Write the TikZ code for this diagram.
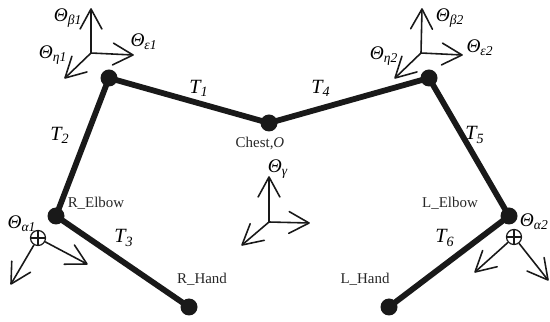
\documentclass[tikz,border=0pt]{standalone}
\usepackage{fontspec}
\setmainfont{Liberation Serif}
\usepackage{tikz}
\usetikzlibrary{arrows.meta,positioning}
\newcommand{\thetalabel}[1]{\textit{Θ\textsubscript{#1}}}
\newcommand{\tlabel}[1]{\textit{T\textsubscript{#1}}}
\pgfdeclarearrow{
  name=OpenHead,
  setup code={
    \pgfarrowssettipend{0pt}
    \pgfarrowssetlineend{-0.4pt}
    \pgfarrowssetvisualbackend{-11.4pt}
    \pgfarrowshullpoint{-11.4pt}{6.2pt}
    \pgfarrowshullpoint{-11.4pt}{-6.2pt}
    \pgfarrowshullpoint{0pt}{0pt}
  },
  drawing code={
    \pgfsetdash{}{0pt}
    \pgfsetroundjoin
    \pgfsetroundcap
    \pgfpathmoveto{\pgfqpoint{-11.4pt}{6.2pt}}
    \pgfpathlineto{\pgfqpoint{0pt}{0pt}}
    \pgfpathlineto{\pgfqpoint{-11.4pt}{-6.2pt}}
    \pgfusepathqstroke
  }
}
\tikzset{
  joint/.style={circle, fill=black!90, minimum size=0.34cm, inner sep=0pt},
  limb/.style={line width=3.3pt, black!90},
  axis/.style={-{OpenHead}, line width=0.9pt, black!90},
  marker/.style={circle, draw=black!90, line width=0.7pt, minimum size=0.3cm, inner sep=0pt},
  cross/.style={line width=0.7pt, black!90},
  angle/.style={inner sep=0pt, font=\fontsize{11}{12}\selectfont},
  seg/.style={inner sep=0pt, font=\fontsize{11.5}{12}\selectfont},
  part/.style={inner sep=0pt, text=black!85, font=\fontsize{8.5}{10}\selectfont},
}
\begin{document}
\begin{tikzpicture}
  \useasboundingbox (0,0) rectangle (11,6.44);
  % skeleton
  \node[joint] (chest) at (5.38, 3.98) {};
  \node[joint] (rshoulder) at (2.18, 4.88) {};
  \node[joint] (relbow) at (1.12, 2.12) {};
  \node[joint] (rhand) at (3.78, 0.30) {};
  \node[joint] (lshoulder) at (8.58, 4.88) {};
  \node[joint] (lelbow) at (10.18, 2.12) {};
  \node[joint] (lhand) at (7.78, 0.30) {};
  \draw[limb] (chest.center) -- (rshoulder.center);
  \draw[limb] (rshoulder.center) -- (relbow.center);
  \draw[limb] (relbow.center) -- (rhand.center);
  \draw[limb] (chest.center) -- (lshoulder.center);
  \draw[limb] (lshoulder.center) -- (lelbow.center);
  \draw[limb] (lelbow.center) -- (lhand.center);
  % shoulder frames
  \coordinate (b1o) at (1.82, 5.38);
  \coordinate (b1up) at (1.82, 6.26);
  \coordinate (b1right) at (2.66, 5.34);
  \coordinate (b1down) at (1.30, 4.88);
  \draw[axis] (b1o) -- (b1up);
  \draw[axis] (b1o) -- (b1right);
  \draw[axis] (b1o) -- (b1down);
  \coordinate (b2o) at (8.42, 5.38);
  \coordinate (b2up) at (8.44, 6.26);
  \coordinate (b2right) at (9.24, 5.34);
  \coordinate (b2down) at (7.90, 4.88);
  \draw[axis] (b2o) -- (b2up);
  \draw[axis] (b2o) -- (b2right);
  \draw[axis] (b2o) -- (b2down);
  % chest frame
  \coordinate (go) at (5.38, 2.00);
  \coordinate (gup) at (5.38, 2.90);
  \coordinate (gright) at (6.18, 1.98);
  \coordinate (gdown) at (4.84, 1.54);
  \draw[axis] (go) -- (gup);
  \draw[axis] (go) -- (gright);
  \draw[axis] (go) -- (gdown);
  % elbow frames
  \node[marker] (a1) at (0.76, 1.68) {};
  \draw[cross] (a1.north) -- (a1.south) (a1.west) -- (a1.east);
  \coordinate (a1down) at (0.22, 0.76);
  \coordinate (a1right) at (1.74, 1.16);
  \draw[axis] (a1) -- (a1down);
  \draw[axis] (a1) -- (a1right);
  \node[marker] (a2) at (10.28, 1.70) {};
  \draw[cross] (a2.north) -- (a2.south) (a2.west) -- (a2.east);
  \coordinate (a2down) at (9.50, 1.00);
  \coordinate (a2right) at (10.96, 0.84);
  \draw[axis] (a2) -- (a2down);
  \draw[axis] (a2) -- (a2right);
  % labels
  \node[angle] (lb1) at (1.36, 6.08) {\thetalabel{β1}};
  \node[angle] (le1) at (2.88, 5.60) {\thetalabel{ε1}};
  \node[angle] (ln1) at (1.06, 5.34) {\thetalabel{η1}};
  \node[angle] (lb2) at (9.00, 6.08) {\thetalabel{β2}};
  \node[angle] (le2) at (9.60, 5.48) {\thetalabel{ε2}};
  \node[angle] (ln2) at (7.68, 5.32) {\thetalabel{η2}};
  \node[angle] (lg) at (5.56, 3.06) {\thetalabel{γ}};
  \node[angle] (la1) at (0.44, 1.96) {\thetalabel{α1}};
  \node[angle, anchor=east] (la2) at (10.98, 2.00) {\thetalabel{α2}};
  \node[seg] (t1) at (3.98, 4.68) {\tlabel{1}};
  \node[seg] (t2) at (1.20, 3.74) {\tlabel{2}};
  \node[seg] (t3) at (2.48, 1.68) {\tlabel{3}};
  \node[seg] (t4) at (6.42, 4.68) {\tlabel{4}};
  \node[seg] (t5) at (9.50, 3.74) {\tlabel{5}};
  \node[seg] (t6) at (8.90, 1.68) {\tlabel{6}};
  \node[part] (lchest) at (5.20, 3.58) {Chest,\textit{O}};
  \node[part] (lrelbow) at (1.92, 2.38) {R\_Elbow};
  \node[part] (lrhand) at (4.04, 0.86) {R\_Hand};
  \node[part] (llelbow) at (9.00, 2.38) {L\_Elbow};
  \node[part] (llhand) at (7.30, 0.86) {L\_Hand};
\end{tikzpicture}
\end{document}
